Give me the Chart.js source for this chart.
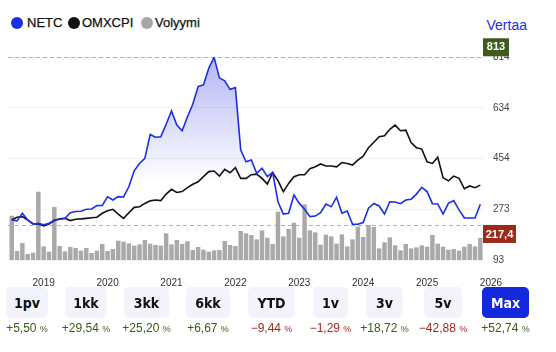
<!DOCTYPE html>
<html>
<head>
<meta charset="utf-8">
<script src="https://cdn.jsdelivr.net/npm/chart.js@4.4.1/dist/chart.umd.min.js"></script>
<style>
body{margin:0;width:556px;height:352px;background:#fff;position:relative;overflow:hidden;font-family:"Liberation Sans",Arial,sans-serif}
#wrap{position:absolute;left:0;top:0;width:556px;height:290px}
.lg{position:absolute;top:15px;font-size:13px;color:#111;line-height:16px;-webkit-text-stroke:0.25px #111}
.dot{position:absolute;top:17px;width:12px;height:12px;border-radius:50%}
#vertaa{position:absolute;right:29px;top:17px;font-size:14px;color:#1e2ee0}
.btn{position:absolute;top:287px;height:31px;border-radius:5px;background:#f2f3fb;font-family:"Liberation Sans Narrow","DejaVu Sans Condensed",sans-serif;font-weight:bold;font-size:14px;color:#111;display:flex;align-items:center;justify-content:center}
.btn.on{background:#1428dc;color:#fff}
.pct{position:absolute;top:321px;width:80px;text-align:center;font-size:12px}
.pct small{font-size:9px}
.up{color:#3b5a14}
.dn{color:#a3281a}
</style>
</head>
<body>
<div class="dot" style="left:11px;background:#1a2ee6"></div><div class="lg" style="left:27px">NETC</div>
<div class="dot" style="left:68px;background:#111"></div><div class="lg" style="left:82px">OMXCPI</div>
<div class="dot" style="left:141px;background:#a6a6a6"></div><div class="lg" style="left:155px">Volyymi</div>
<div id="vertaa">Vertaa</div>
<div id="wrap"><canvas id="myChart"></canvas></div>
<div id="buttons"></div>
<script>
// monthly points, Jul 2018 .. Nov 2025
const netc = [235, 232, 259, 235, 221, 223, 218, 223, 235, 238, 241, 261, 265, 266, 273, 274, 286, 287, 317, 306, 318, 317, 353, 410, 436, 454, 539, 529, 531, 575,
    622, 572, 552, 602, 646, 709, 715, 774, 813, 740, 729, 699, 705, 484, 442, 448, 401, 419, 389, 404, 300, 256, 259, 324, 294, 273, 247, 249, 261,
    292, 282, 316, 259, 267, 220, 220, 226, 277, 294, 285, 256, 300, 299, 293, 306, 309, 327, 351, 336, 293, 292, 256, 294, 304, 271, 242, 242, 242, 291];
const omxcpi = [235, 245, 247, 235, 221, 221, 214, 221, 233, 239, 241, 233, 238, 239, 241, 243, 245, 259, 268, 273, 256, 241, 261, 280, 282, 294, 303, 306, 304, 327,
    344, 333, 336, 350, 362, 371, 389, 407, 409, 391, 415, 403, 421, 383, 383, 396, 398, 383, 363, 403, 375, 336, 365, 389, 396, 396, 417, 424, 434,
    427, 427, 424, 439, 436, 430, 448, 462, 492, 511, 531, 534, 557, 572, 552, 554, 510, 492, 487, 442, 436, 458, 385, 374, 391, 383, 346, 356, 350, 359];
const volume = [440, 87, 167, 57, 70, 680, 133, 80, 527, 137, 83, 127, 117, 90, 117, 67, 90, 157, 87, 107, 190, 180, 163, 140, 153, 197, 160, 147, 140, 263,
    153, 197, 157, 183, 97, 127, 100, 80, 93, 97, 187, 147, 137, 287, 263, 247, 203, 293, 220, 157, 480, 233, 307, 370, 220, 553, 293, 273, 150,
    250, 233, 160, 253, 133, 203, 330, 227, 347, 327, 113, 173, 223, 143, 93, 157, 113, 123, 143, 130, 247, 160, 130, 100, 107, 90, 130, 157, 133, 217];
const yearLabels = ['2019', '2020', '2021', '2022', '2023', '2024', '2025', '2026'];
const yTicks = [93, 273.25, 453.5, 633.75, 814];
const maxLevel = 813;
const lastLevel = 217.4;

const periods = ['1pv', '1kk', '3kk', '6kk', 'YTD', '1v', '3v', '5v', 'Max'];
const changes = ['+5,50', '+29,54', '+25,20', '+6,67', '\u22129,44', '\u22121,29', '+18,72', '\u221242,88', '+52,74'];
const btnLeft = [6, 65, 124, 186, 248, 313, 366, 424, 482];
const btnWidth = [42, 42, 45, 44, 47, 35, 37, 38, 47];

// buttons row
const box = document.getElementById('buttons');
periods.forEach((p, i) => {
    const b = document.createElement('div');
    b.className = 'btn' + (p === 'Max' ? ' on' : '');
    b.style.left = btnLeft[i] + 'px';
    b.style.width = btnWidth[i] + 'px';
    b.textContent = p;
    box.appendChild(b);
    const c = document.createElement('div');
    const mid = btnLeft[i] + btnWidth[i] / 2;
    c.className = 'pct ' + (changes[i].startsWith('+') ? 'up' : 'dn');
    c.style.left = (mid - 40) + 'px';
    c.innerHTML = `${changes[i]} <small>%</small>`;
    box.appendChild(c);
});

const refLines = {
    id: 'refLines',
    beforeDatasetsDraw(chart) {
        const { ctx, chartArea, scales: { y } } = chart;
        ctx.save();
        ctx.lineWidth = 1;
        ctx.setLineDash([4, 3]);
        const y1 = Math.round(y.getPixelForValue(maxLevel)) + 0.5;
        ctx.strokeStyle = '#b8b39c';
        ctx.beginPath(); ctx.moveTo(chartArea.left, y1); ctx.lineTo(chartArea.right, y1); ctx.stroke();
        const y2 = Math.round(y.getPixelForValue(lastLevel)) + 0.5;
        ctx.strokeStyle = '#d6a19d';
        ctx.beginPath(); ctx.moveTo(chartArea.left, y2); ctx.lineTo(chartArea.right, y2); ctx.stroke();
        ctx.restore();
    },
    afterDraw(chart) {
        const { ctx, chartArea, scales: { y } } = chart;
        ctx.save();
        ctx.font = 'bold 11px "Liberation Sans", Arial, sans-serif';
        ctx.textAlign = 'center';
        ctx.textBaseline = 'middle';
        const x0 = chartArea.right;
        const y1 = y.getPixelForValue(maxLevel);
        ctx.fillStyle = '#3d5b1c';
        ctx.fillRect(x0, y1 - 19, 26, 18);
        ctx.fillStyle = '#fff';
        ctx.fillText('813', x0 + 13, y1 - 10);
        const y2 = y.getPixelForValue(lastLevel);
        ctx.fillStyle = '#9c2a1b';
        ctx.fillRect(x0, y2, 33, 18);
        ctx.fillStyle = '#fff';
        ctx.fillText('217,4', x0 + 16.5, y2 + 9.5);
        ctx.restore();
    }
};

const pts = arr => arr.map((v, i) => ({ x: i, y: v }));

new Chart(document.getElementById('myChart'), {
    type: 'bar',
    data: {
        datasets: [
            {
                type: 'line',
                label: 'NETC',
                data: pts(netc),
                borderColor: '#1a2ee6',
                borderWidth: 1.6,
                pointRadius: 0,
                tension: 0,
                fill: 'start',
                backgroundColor: (c) => {
                    const area = c.chart.chartArea;
                    if (!area) return 'transparent';
                    const g = c.chart.ctx.createLinearGradient(0, area.top, 0, area.top + 125);
                    g.addColorStop(0, 'rgba(60,60,225,0.38)');
                    g.addColorStop(1, 'rgba(60,60,225,0)');
                    return g;
                },
                yAxisID: 'y',
                order: 1,
            },
            {
                type: 'line',
                label: 'OMXCPI',
                data: pts(omxcpi),
                borderColor: '#111',
                borderWidth: 1.6,
                pointRadius: 0,
                tension: 0,
                fill: false,
                yAxisID: 'y',
                order: 2,
            },
            {
                label: 'Volyymi',
                data: pts(volume),
                backgroundColor: '#a9a9a9',
                barThickness: 3.8,
                yAxisID: 'yv',
                order: 3,
            },
        ],
    },
    options: {
        responsive: true,
        maintainAspectRatio: false,
        animation: false,
        layout: { padding: { top: 57, left: 8, right: 0, bottom: 0 } },
        plugins: { legend: { display: false }, tooltip: { enabled: false } },
        scales: {
            x: {
                type: 'linear',
                offset: false,
                min: -0.7,
                max: 88.5,
                grid: { display: false },
                border: { display: false },
                afterBuildTicks: s => { s.ticks = yearLabels.map((l, i) => ({ value: 6 + 12 * i })); },
                afterFit: s => { s.height = 30; s.paddingLeft = 0; s.paddingRight = 0; },
                ticks: {
                    autoSkip: false,
                    maxRotation: 0,
                    padding: 9,
                    color: '#333',
                    font: { size: 10, family: '"Liberation Sans", Arial, sans-serif' },
                    callback: (v) => yearLabels[(v - 6) / 12],
                },
            },
            y: {
                position: 'right',
                min: 93,
                max: 814,
                grid: { color: '#f1f1f1', drawTicks: false },
                border: { display: false },
                afterBuildTicks: s => { s.ticks = yTicks.map(v => ({ value: v })); },
                afterFit: s => { s.width = 73; },
                ticks: {
                    padding: 10,
                    color: '#444',
                    font: { size: 10, family: '"Liberation Sans", Arial, sans-serif' },
                    callback: v => Math.round(v),
                },
            },
            yv: {
                display: false,
                min: 0,
                max: 2030,
            },
        },
    },
    plugins: [refLines],
});
</script>
</body>
</html>
